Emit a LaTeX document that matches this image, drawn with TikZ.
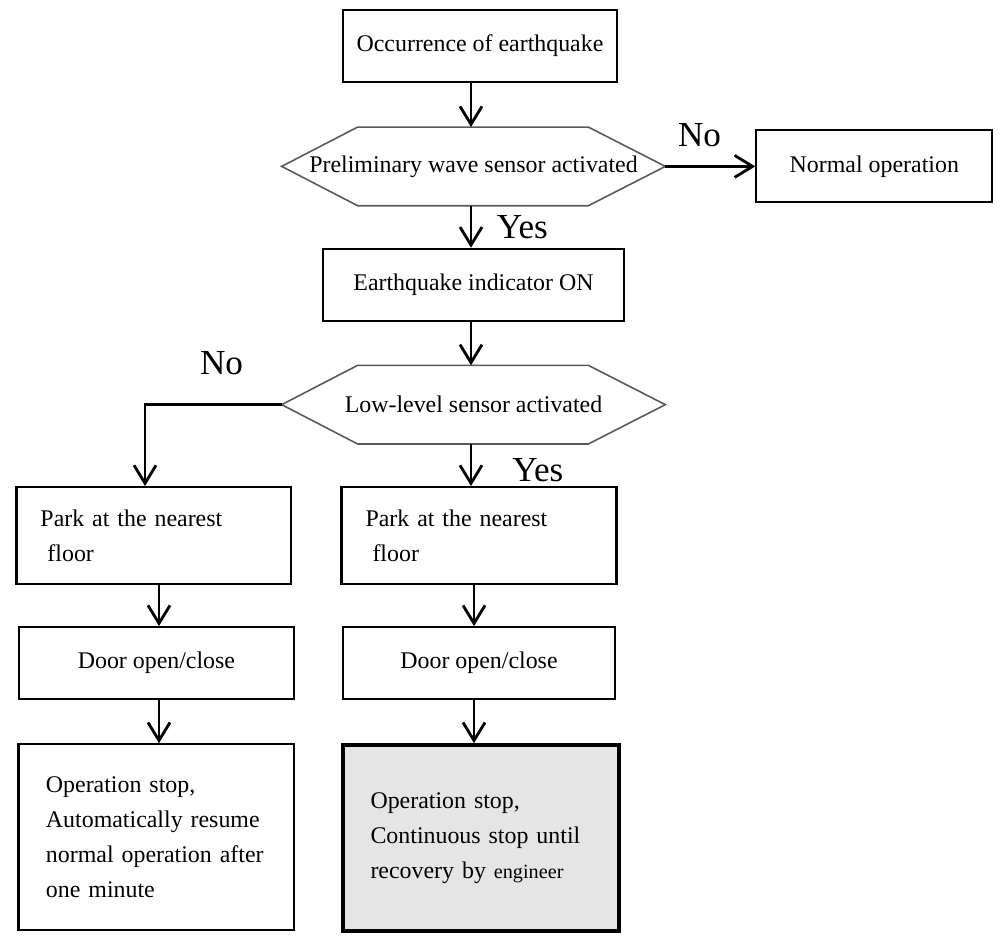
\documentclass[tikz,border=0pt]{standalone}
\usepackage{fontspec}
\setmainfont{Liberation Serif}
\usetikzlibrary{positioning,arrows.meta}

\begin{document}
\begin{tikzpicture}[x=0.02cm,y=-0.02cm,
  box/.style={rectangle,draw,line width=1.2pt,minimum height=1.44cm,inner sep=0pt,
    font=\fontsize{13.6}{20}\selectfont},
  textbox/.style={box,align=left,inner xsep=0.48cm,text width=4.54cm,minimum height=1.94cm},
  stopbox/.style={box,align=left,inner xsep=0.55cm,text width=4.42cm,minimum height=3.72cm},
  test/.style={rectangle,minimum width=7.66cm,minimum height=1.56cm,inner sep=0pt,
    font=\fontsize{13.6}{20}\selectfont},
  hexline/.style={draw=black!65,line width=0.9pt},
  arr/.style={-{Straight Barb[length=0.36cm,width=0.44cm]},line width=1.6pt},
  answer/.style={font=\fontsize{20}{22}\selectfont}]
  \useasboundingbox (0,0) rectangle (1000,938);

  \node[box,minimum width=5.48cm] (quake) at (480,46) {Occurrence of earthquake};
  \node[test,below=0.88cm of quake,xshift=-0.13cm] (pwave) {Preliminary wave sensor activated};
  \node[box,minimum width=4.72cm,right=1.8cm of pwave] (normal) {Normal operation};
  \node[box,minimum width=6.02cm,below=0.84cm of pwave] (indicator) {Earthquake indicator ON};
  \node[test,below=0.87cm of indicator] (lowlevel) {Low-level sensor activated};
  \node[textbox,below=0.84cm of lowlevel,xshift=0.11cm] (parkB) {Park at the nearest\\\hspace{0.14cm}floor};
  \node[textbox,left=0.96cm of parkB] (parkA) {Park at the nearest\\\hspace{0.14cm}floor};
  \node[box,minimum width=5.44cm,below=0.82cm of parkB] (doorB) {Door open/close};
  \node[box,minimum width=5.5cm,left=0.94cm of doorB] (doorA) {Door open/close};
  \node[stopbox,below=0.86cm of doorA] (stopA)
    {Operation stop,\\Automatically resume\\normal operation after\\one minute};
  \node[stopbox,line width=2.4pt,fill=black!10,below=0.86cm of doorB,xshift=0.04cm] (stopB)
    {Operation stop,\\Continuous stop until\\recovery by {\fontsize{11.5}{20}\selectfont engineer}};

  % hexagon outline of the two tests
  \foreach \n in {pwave,lowlevel}
    \draw[hexline] (\n.west) -- ([xshift=1.52cm]\n.north west) -- ([xshift=-1.54cm]\n.north east)
      -- (\n.east) -- ([xshift=-1.54cm]\n.south east) -- ([xshift=1.52cm]\n.south west) -- cycle;

  % columns the arrows run along
  \coordinate (colA) at (471,0);
  \coordinate (colB) at (474,0);
  \coordinate (colC) at (145,0);
  \coordinate (colD) at (159,0);

  \draw[arr] (quake.south -| colA) -- (pwave.north -| colA);
  \draw[arr] (pwave.east) -- node[answer,above=0.24cm,pos=0.38] {No} (pwave.east -| normal.west);
  \draw[arr] (pwave.south -| colA) -- node[answer,right=0.37cm] {Yes} (indicator.north -| colA);
  \draw[arr] (indicator.south -| colA) -- (lowlevel.north -| colA);
  \draw[arr] (lowlevel.south -| colA) -- node[answer,right=0.68cm,pos=0.62] {Yes} (parkB.north -| colA);
  \draw[arr] (lowlevel.west) -| node[answer,above=0.46cm,pos=0.22] {No} (colC |- parkA.north);
  \draw[arr] (parkA.south -| colD) -- (doorA.north -| colD);
  \draw[arr] (doorA.south -| colD) -- (stopA.north -| colD);
  \draw[arr] (parkB.south -| colB) -- (doorB.north -| colB);
  \draw[arr] (doorB.south -| colB) -- (stopB.north -| colB);
\end{tikzpicture}
\end{document}
